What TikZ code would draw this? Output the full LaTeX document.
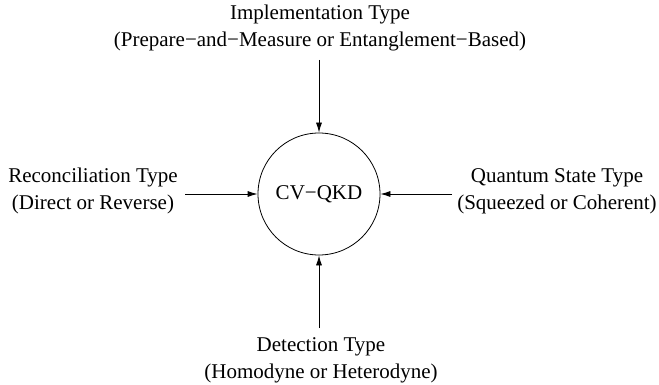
\documentclass[tikz,border=0pt]{standalone}
\usepackage{fontspec}
\setmainfont{Liberation Serif}
\usetikzlibrary{arrows.meta}
\begin{document}
\begin{tikzpicture}[x=1pt,y=-1pt,
  lbl/.style={align=center,inner sep=0pt,font=\fontsize{21}{27}\selectfont},
  conn/.style={line width=0.8pt,-{Latex[length=10pt,width=6pt]}}]
\useasboundingbox (0,0) rectangle (659,385);
\node[circle,draw,line width=0.8pt,minimum size=122pt,inner sep=0pt,font=\fontsize{21}{27}\selectfont] (c) at (319,194) {CV−QKD};
\node[lbl] (top) at (320,28) {Implementation Type\\(Prepare−and−Measure or Entanglement−Based)};
\node[lbl] (left) at (93,191) {Reconciliation Type\\(Direct or Reverse)};
\node[lbl] (right) at (557,191) {Quantum State Type\\(Squeezed or Coherent)};
\node[lbl] (bot) at (321,360) {Detection Type\\(Homodyne or Heterodyne)};
\coordinate (tA) at (319,60);
\coordinate (lA) at (185,194);
\coordinate (rA) at (452,194);
\coordinate (bA) at (319,328);
\draw[conn] (tA) -- (c.north);
\draw[conn] (lA) -- (c.west);
\draw[conn] (rA) -- (c.east);
\draw[conn] (bA) -- (c.south);
\end{tikzpicture}
\end{document}
